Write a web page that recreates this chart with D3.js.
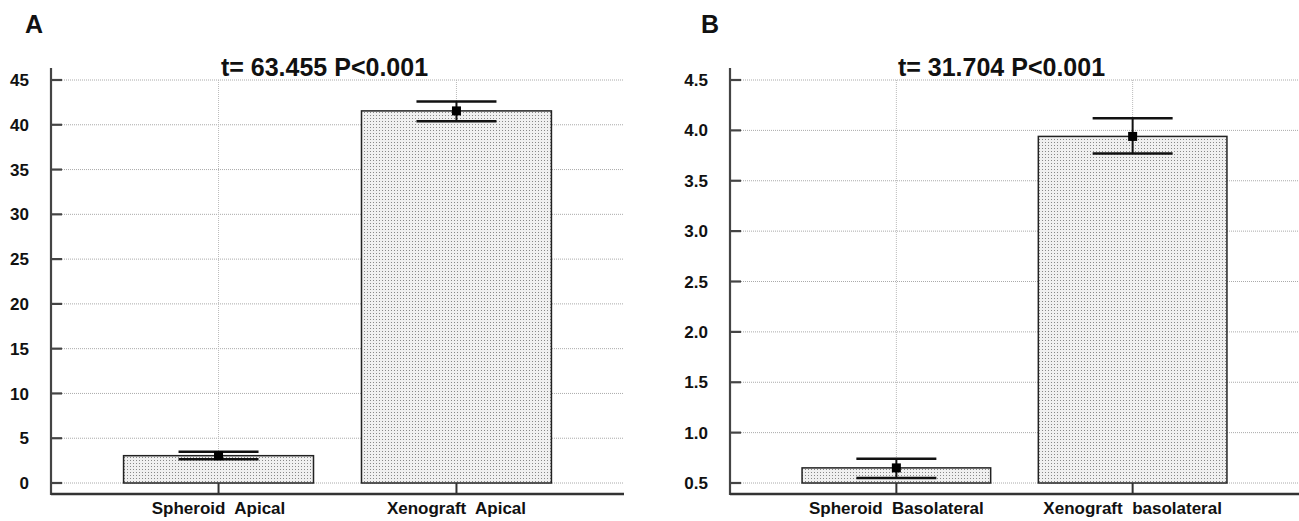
<!DOCTYPE html>
<html>
<head>
	<script src="https://cdn.jsdelivr.net/npm/d3@7/dist/d3.min.js"></script>
	<style>
		body { margin: 0; background: white; }
		text { font-family: "Liberation Sans", Arial, sans-serif; font-weight: bold; fill: #111; }
	</style>
</head>
<body>
	<script>
		var width = 1299, height = 521;

		// panel A
		var catsA = ["Spheroid  Apical", "Xenograft  Apical"];
		var meanA = [3.05, 41.55];
		var lowA = [2.65, 40.4];
		var highA = [3.5, 42.6];
		var ticksA = [0, 5, 10, 15, 20, 25, 30, 35, 40, 45];
		var titleA = "t= 63.455 P<0.001";

		// panel B
		var catsB = ["Spheroid  Basolateral", "Xenograft  basolateral"];
		var meanB = [0.65, 3.94];
		var lowB = [0.55, 3.77];
		var highB = [0.74, 4.12];
		var ticksB = [0.5, 1.0, 1.5, 2.0, 2.5, 3.0, 3.5, 4.0, 4.5];
		var titleB = "t= 31.704 P<0.001";

		var svg = d3.select("body").append("svg")
			.attr("width", width)
			.attr("height", height);

		// stipple fill for the bars
		var pat = svg.append("defs").append("pattern")
			.attr("id", "dots")
			.attr("patternUnits", "userSpaceOnUse")
			.attr("width", 3)
			.attr("height", 3);
		pat.append("rect").attr("width", 3).attr("height", 3).attr("fill", "#f0f0f0");
		pat.append("rect").attr("x", 1).attr("y", 1).attr("width", 1).attr("height", 1).attr("fill", "#888");

		var plotTop = 68, plotBottom = 494, tickLen = 11;

		function panel(letter, letterX, x0, x1, cats, mean, low, high, ticks, title, fmt) {
			var g = svg.append("g");

			var x = d3.scaleBand().domain(cats).range([x0, x1])
				.paddingInner(0.2017).paddingOuter(0.305);
			var y = d3.scaleLinear().domain([ticks[0], ticks[ticks.length - 1]]).range([483, 80]);

			// grid
			g.selectAll(".hg").data(ticks).enter().append("line")
				.attr("x1", x0 + tickLen).attr("x2", x1)
				.attr("y1", function(d) { return y(d); })
				.attr("y2", function(d) { return y(d); })
				.style("stroke", "#aaa").style("stroke-width", 1).style("stroke-dasharray", "1,1");
			g.selectAll(".vg").data(cats).enter().append("line")
				.attr("x1", function(d) { return x(d) + x.bandwidth() / 2; })
				.attr("x2", function(d) { return x(d) + x.bandwidth() / 2; })
				.attr("y1", 80).attr("y2", plotBottom - tickLen)
				.style("stroke", "#bbb").style("stroke-width", 1).style("stroke-dasharray", "1,1");

			// bars
			g.selectAll(".bar").data(cats).enter().append("rect")
				.attr("x", function(d) { return x(d); })
				.attr("width", x.bandwidth())
				.attr("y", function(d, i) { return y(mean[i]); })
				.attr("height", function(d, i) { return y(ticks[0]) - y(mean[i]); })
				.attr("fill", "url(#dots)")
				.attr("stroke", "#222").attr("stroke-width", 1.5);

			// error bars
			cats.forEach(function(c, i) {
				var cx = x(c) + x.bandwidth() / 2;
				g.append("line").attr("x1", cx).attr("x2", cx)
					.attr("y1", y(high[i])).attr("y2", y(low[i]))
					.style("stroke", "#111").style("stroke-width", 2);
				[low[i], high[i]].forEach(function(v) {
					g.append("line").attr("x1", cx - 40).attr("x2", cx + 40)
						.attr("y1", y(v)).attr("y2", y(v))
						.style("stroke", "#111").style("stroke-width", 2.5);
				});
				g.append("rect").attr("x", cx - 4.5).attr("y", y(mean[i]) - 4.5)
					.attr("width", 9).attr("height", 9).attr("fill", "#000");
			});

			// axes
			g.append("line").attr("x1", x0).attr("x2", x0).attr("y1", plotTop).attr("y2", plotBottom + 1)
				.style("stroke", "#444").style("stroke-width", 2.2);
			g.append("line").attr("x1", x0).attr("x2", x1).attr("y1", plotBottom).attr("y2", plotBottom)
				.style("stroke", "#333").style("stroke-width", 2.5);
			g.selectAll(".yt").data(ticks).enter().append("line")
				.attr("x1", x0).attr("x2", x0 + tickLen)
				.attr("y1", function(d) { return y(d); })
				.attr("y2", function(d) { return y(d); })
				.style("stroke", "#444").style("stroke-width", 2.2);
			g.selectAll(".xt").data(cats).enter().append("line")
				.attr("x1", function(d) { return x(d) + x.bandwidth() / 2; })
				.attr("x2", function(d) { return x(d) + x.bandwidth() / 2; })
				.attr("y1", plotBottom - tickLen).attr("y2", plotBottom)
				.style("stroke", "#333").style("stroke-width", 2);

			// labels
			g.selectAll(".yl").data(ticks).enter().append("text")
				.attr("x", x0 - 22)
				.attr("y", function(d) { return y(d); })
				.attr("dy", "0.36em")
				.attr("text-anchor", "end")
				.style("font-size", "17px")
				.text(fmt);
			g.selectAll(".xl").data(cats).enter().append("text")
				.attr("x", function(d) { return x(d) + x.bandwidth() / 2; })
				.attr("y", 514)
				.attr("text-anchor", "middle")
				.style("font-size", "17px")
				.style("white-space", "pre")
				.text(function(d) { return d; });

			g.append("text")
				.attr("x", (x0 + x1) / 2 - 13)
				.attr("y", 76)
				.attr("text-anchor", "middle")
				.style("font-size", "25px")
				.text(title);

			g.append("text")
				.attr("x", letterX)
				.attr("y", 33)
				.style("font-size", "25px")
				.text(letter);
		}

		panel("A", 25, 51, 624, catsA, meanA, lowA, highA, ticksA, titleA, d3.format("d"));
		panel("B", 701, 730, 1299, catsB, meanB, lowB, highB, ticksB, titleB, d3.format(".1f"));
	</script>
</body>
</html>
